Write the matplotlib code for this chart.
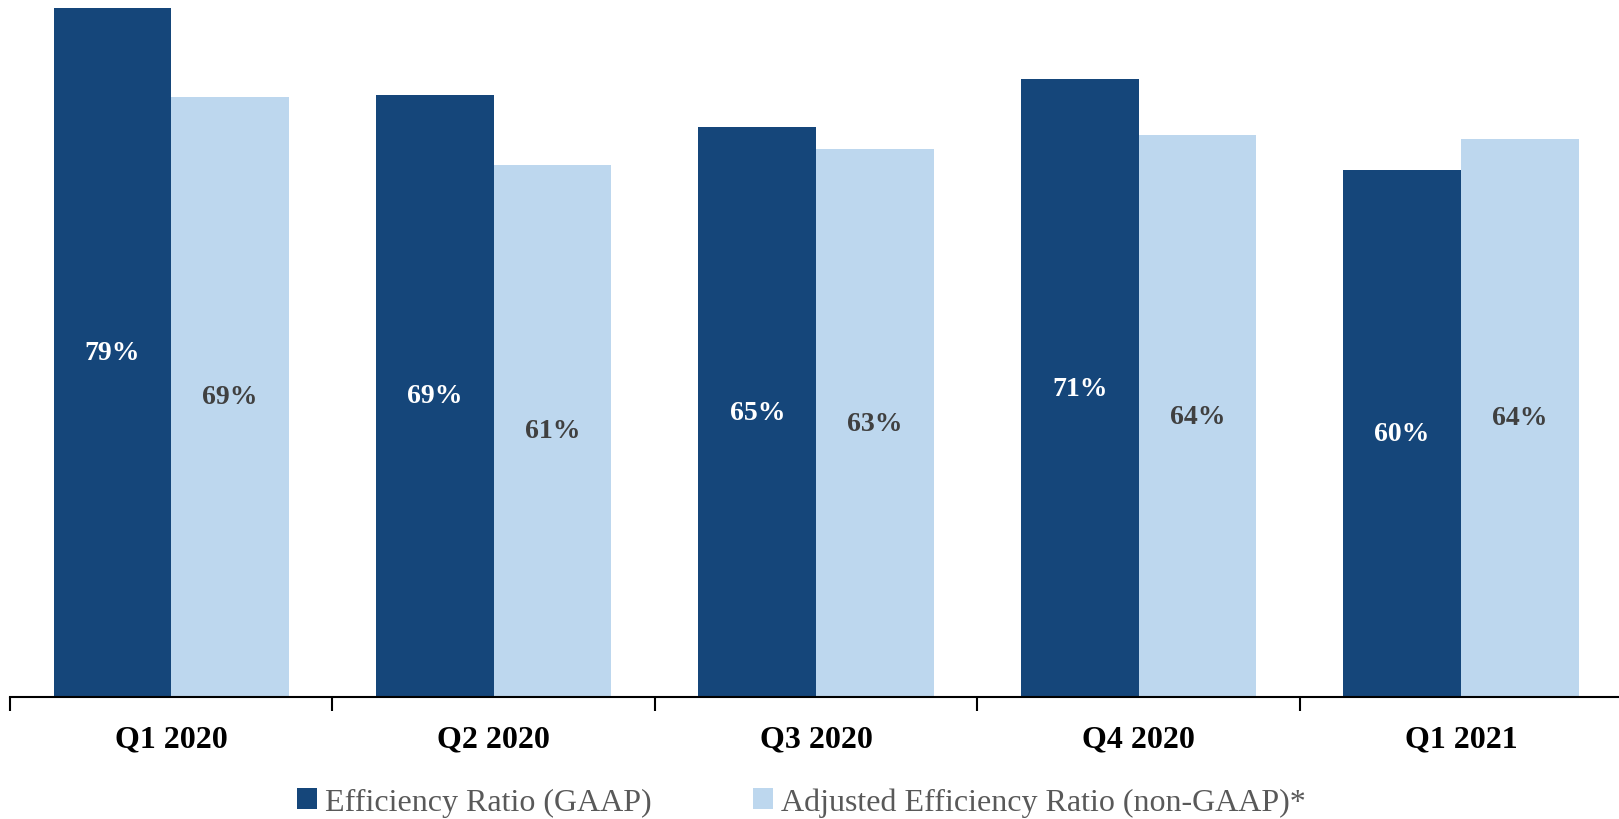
import numpy as np
import matplotlib
matplotlib.use('Agg')
import matplotlib.pyplot as plt
from matplotlib.ticker import FixedLocator

plt.rcParams['font.family'] = ['Liberation Serif', 'DejaVu Serif']

COL_DARK = '#15467a'
COL_LIGHT = '#bdd7ee'

quarters = ['Q1 2020', 'Q2 2020', 'Q3 2020', 'Q4 2020', 'Q1 2021']
gaap = [79.0, 69.0, 65.3, 70.8, 60.4]
adjusted = [68.8, 61.0, 62.8, 64.4, 64.0]
series_names = ['Efficiency Ratio (GAAP)', 'Adjusted Efficiency Ratio (non-GAAP)*']

fig = plt.figure(figsize=(16.19, 8.20), dpi=100)
ax = fig.add_axes([10 / 1619, 1 - 698 / 820, 1 - 10 / 1619, 698 / 820])

x = np.arange(len(quarters))
w = 0.365
b1 = ax.bar(x - w / 2, gaap, w, color=COL_DARK, label=series_names[0])
b2 = ax.bar(x + w / 2, adjusted, w, color=COL_LIGHT, label=series_names[1])

# value labels in the middle of each bar
for xi, v in zip(x, gaap):
    ax.text(xi - w / 2, v / 2, f'{v:.0f}%', ha='center', va='center',
            color='white', fontsize=20, fontweight='bold')
for xi, v in zip(x, adjusted):
    ax.text(xi + w / 2, v / 2, f'{v:.0f}%', ha='center', va='center',
            color='#404040', fontsize=20, fontweight='bold')

ax.set_xlim(-0.5, 4.49)
ax.set_ylim(0, 80)
ax.set_yticks([])
for s in ['top', 'right', 'left']:
    ax.spines[s].set_visible(False)
ax.spines['bottom'].set_linewidth(1.5)
ax.spines['bottom'].set_color('black')

ax.set_xticks(x)
ax.set_xticklabels(quarters, fontsize=23, fontweight='bold', color='black')
ax.tick_params(axis='x', which='major', length=0, pad=20)
ax.xaxis.set_minor_locator(FixedLocator(np.arange(-0.5, 4.6, 1.0)))
ax.tick_params(axis='x', which='minor', length=10, width=1.5, direction='out', color='black')

fig.legend(handles=[b1, b2], loc='center', bbox_to_anchor=(0.495, 17 / 820),
           ncol=2, frameon=False, fontsize=23, labelcolor='#595959',
           handlelength=0.6, handleheight=0.6, handletextpad=0.25, columnspacing=3.2)

fig.savefig('out.png', dpi=100)
